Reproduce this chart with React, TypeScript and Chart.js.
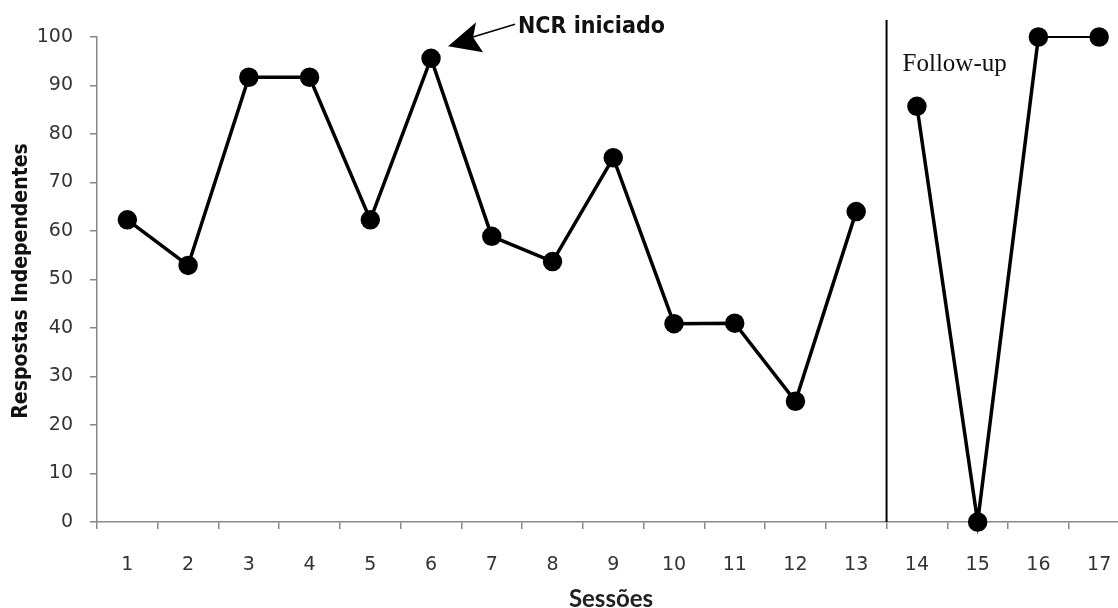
import React, { useEffect, useRef } from "react";
import { Chart, registerables } from "chart.js";

Chart.register(...registerables);

const sessions = ["1", "2", "3", "4", "5", "6", "7", "8", "9", "10", "11", "12", "13", "14", "15", "16", "17"];
const baseline = [62.3, 52.9, 91.7, 91.7, 62.3, 95.6, 58.9, 53.7, 75.1, 40.9, 41, 24.9, 64, null, null, null, null];
const followUp = [null, null, null, null, null, null, null, null, null, null, null, null, null, 85.7, 0, 100, 100];
const yMin = 0;
const yMax = 100;
const yStep = 10;
const yTitle = "Respostas Independentes";
const xTitle = "Sessões";
const annotationText = "NCR iniciado";
const annotationIndex = 5;
const phaseLabel = "Follow-up";
const phaseBoundaryAfter = 12;

const overlay = {
  id: "overlay",
  afterDraw(chart: any) {
    const ctx = chart.ctx;
    const xs = chart.scales.x;
    const ys = chart.scales.y;
    const area = chart.chartArea;
    ctx.save();

    // phase line
    const bx = (xs.getPixelForValue(phaseBoundaryAfter) + xs.getPixelForValue(phaseBoundaryAfter + 1)) / 2;
    ctx.strokeStyle = "#000";
    ctx.lineWidth = 2;
    ctx.beginPath();
    ctx.moveTo(bx, area.top - 17);
    ctx.lineTo(bx, area.bottom);
    ctx.stroke();

    // Follow-up label
    ctx.fillStyle = "#111";
    ctx.font = "25px 'Liberation Serif', 'Times New Roman', serif";
    ctx.textAlign = "left";
    ctx.textBaseline = "middle";
    ctx.fillText(phaseLabel, bx + 16, 64);

    // NCR annotation
    const px = xs.getPixelForValue(annotationIndex);
    const py = ys.getPixelForValue(baseline[annotationIndex] as number);
    const tipX = px + 17;
    const tipY = py - 12;
    ctx.fillStyle = "#000";
    ctx.beginPath();
    ctx.moveTo(tipX, tipY);
    ctx.lineTo(tipX + 28, tipY - 24);
    ctx.lineTo(tipX + 25, tipY - 9);
    ctx.lineTo(tipX + 35, tipY + 6);
    ctx.closePath();
    ctx.fill();
    ctx.strokeStyle = "#000";
    ctx.lineWidth = 1.5;
    ctx.beginPath();
    ctx.moveTo(tipX + 24, tipY - 9);
    ctx.lineTo(tipX + 67, tipY - 22);
    ctx.stroke();

    ctx.fillStyle = "#111";
    ctx.font = "bold 23px 'Liberation Sans Narrow', 'DejaVu Sans Condensed', Arial, sans-serif";
    ctx.textAlign = "left";
    ctx.textBaseline = "middle";
    ctx.fillText(annotationText, tipX + 70, 27);

    // axis titles
    ctx.fillStyle = "#111";
    ctx.font = "bold 21px 'Liberation Sans Narrow', 'DejaVu Sans Condensed', Arial, sans-serif";
    ctx.textAlign = "center";
    ctx.textBaseline = "middle";
    ctx.save();
    ctx.translate(22, 281);
    ctx.rotate(-Math.PI / 2);
    ctx.fillText(yTitle, 0, 0);
    ctx.restore();

    ctx.font = "bold 24px Lato, 'Open Sans', sans-serif";
    ctx.fillStyle = "#222";
    ctx.fillText(xTitle, 611, 599);

    ctx.restore();
  },
};

export default function App() {
  const ref = useRef<HTMLCanvasElement | null>(null);
  useEffect(() => {
    if (!ref.current) return;
    const tickFont = { family: "'DejaVu Sans', Verdana, sans-serif", size: 19 };
    const chart = new Chart(ref.current, {
      type: "line",
      data: {
        labels: sessions,
        datasets: [
          {
            data: baseline,
            borderColor: "#000",
            backgroundColor: "#000",
            borderWidth: 3.5,
            pointRadius: 8,
            pointHoverRadius: 8,
            pointBackgroundColor: "#000",
            pointBorderColor: "#000",
            spanGaps: false,
            clip: false as any,
          },
          {
            data: followUp,
            borderColor: "#000",
            backgroundColor: "#000",
            borderWidth: 3.5,
            pointRadius: 8,
            pointHoverRadius: 8,
            pointBackgroundColor: "#000",
            pointBorderColor: "#000",
            spanGaps: false,
            clip: false as any,
            segment: {
              borderWidth: (c: any) => (c.p0DataIndex === 15 ? 2 : 3.5),
            },
          },
        ],
      },
      options: {
        animation: false,
        responsive: true,
        maintainAspectRatio: false,
        layout: { padding: { top: 37, left: 0, right: 0, bottom: 0 } },
        plugins: { legend: { display: false }, tooltip: { enabled: false } },
        scales: {
          x: {
            type: "category",
            offset: true,
            grid: { offset: true, drawOnChartArea: false, drawTicks: true, tickLength: 7, color: "#888", lineWidth: 1.5 },
            border: { color: "#888", width: 1.5 },
            ticks: { font: tickFont, color: "#333", padding: 25, maxRotation: 0, autoSkip: false },
            afterFit: (s: any) => {
              s.height = 86;
            },
          },
          y: {
            min: yMin,
            max: yMax,
            grid: { drawOnChartArea: false, drawTicks: true, tickLength: 7, color: "#888", lineWidth: 1.5 },
            border: { color: "#888", width: 1.5 },
            ticks: { stepSize: yStep, font: tickFont, color: "#333", padding: 17 },
            afterFit: (s: any) => {
              s.width = 97;
            },
          },
        },
      },
      plugins: [overlay],
    });
    return () => chart.destroy();
  }, []);
  return (
    <div style={{ position: "fixed", left: 0, top: 0, width: 1118, height: 608, overflow: "hidden", background: "#fff" }}>
      <div style={{ position: "relative", width: 1141, height: 608 }}>
        <canvas ref={ref} />
      </div>
    </div>
  );
}
